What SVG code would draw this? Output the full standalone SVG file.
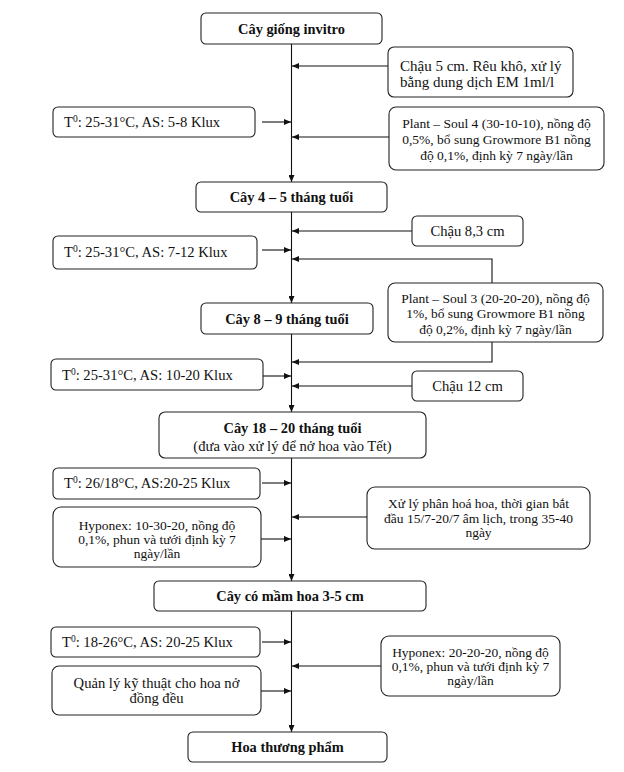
<svg xmlns="http://www.w3.org/2000/svg" width="624" height="772" viewBox="0 0 624 772">
<style>
.b{fill:#fff;stroke:#222;stroke-width:1.1}
.t{font-family:"Liberation Serif","Times New Roman",serif;font-size:14.6px;fill:#111}
.s{font-size:13.5px}
.h{font-weight:bold;font-size:14.4px}
.m{text-anchor:middle}
.c{fill:none;stroke:#111;stroke-width:1.1}
.sup{font-size:9.5px}
</style>
<defs>
<marker id="a" viewBox="0 0 7 6" refX="7" refY="3" markerWidth="7" markerHeight="6" markerUnits="userSpaceOnUse" orient="auto">
<path d="M0,0 L7,3 L0,6 z" fill="#111"/>
</marker>
</defs>
<rect width="624" height="772" fill="#fff"/>
<g id="connectors">
<line class="c" x1="291.5" y1="44" x2="291.5" y2="182" marker-end="url(#a)"/>
<line class="c" x1="291.5" y1="212" x2="291.5" y2="303" marker-end="url(#a)"/>
<line class="c" x1="291.5" y1="334" x2="291.5" y2="412" marker-end="url(#a)"/>
<line class="c" x1="291.5" y1="458" x2="291.5" y2="581" marker-end="url(#a)"/>
<line class="c" x1="291.5" y1="611" x2="291.5" y2="732" marker-end="url(#a)"/>
<line class="c" x1="388" y1="66" x2="292" y2="66" marker-end="url(#a)"/>
<line class="c" x1="262" y1="122" x2="291" y2="122" marker-end="url(#a)"/>
<line class="c" x1="389" y1="137" x2="292" y2="137" marker-end="url(#a)"/>
<line class="c" x1="412" y1="231" x2="292" y2="231" marker-end="url(#a)"/>
<line class="c" x1="262" y1="250" x2="291" y2="250" marker-end="url(#a)"/>
<polyline class="c" points="492,283 492,259 292,259" marker-end="url(#a)"/>
<polyline class="c" points="492,342 492,362 292,362" marker-end="url(#a)"/>
<line class="c" x1="263" y1="376" x2="291" y2="376" marker-end="url(#a)"/>
<line class="c" x1="412" y1="386" x2="292" y2="386" marker-end="url(#a)"/>
<line class="c" x1="262" y1="483" x2="291" y2="483" marker-end="url(#a)"/>
<line class="c" x1="367" y1="517" x2="292" y2="517" marker-end="url(#a)"/>
<line class="c" x1="261" y1="539" x2="291" y2="539" marker-end="url(#a)"/>
<line class="c" x1="262" y1="642" x2="291" y2="642" marker-end="url(#a)"/>
<line class="c" x1="381" y1="666" x2="292" y2="666" marker-end="url(#a)"/>
<line class="c" x1="261" y1="691" x2="291" y2="691" marker-end="url(#a)"/>
</g>
<g id="n1"><rect class="b" x="201" y="13" width="181" height="31" rx="5"/><text class="t h m" x="291.5" y="33.5">Cây giống invitro</text></g>
<g id="n2"><rect class="b" x="388" y="47" width="185" height="50" rx="6"/><text class="t" x="400" y="71" style="font-size:15px">Chậu 5 cm. Rêu khô, xử lý</text><text class="t" x="400" y="87" style="font-size:15px">bằng dung dịch EM 1ml/l</text></g>
<g id="n3"><rect class="b" x="53" y="107" width="202" height="30" rx="5"/><text class="t" x="64" y="127">T<tspan class="sup" dy="-5">0</tspan><tspan dy="5">: 25-31°C, AS: 5-8 Klux</tspan></text></g>
<g id="n4"><rect class="b" x="389" y="107" width="215" height="63" rx="7"/><text class="t s m" x="496.5" y="127.5">Plant – Soul 4 (30-10-10), nồng độ</text><text class="t s m" x="496.5" y="143.5">0,5%, bổ sung Growmore B1 nồng</text><text class="t s m" x="496.5" y="159.5">độ 0,1%, định kỳ 7 ngày/lần</text></g>
<g id="n5"><rect class="b" x="196" y="182" width="191" height="30" rx="5"/><text class="t h m" x="291.5" y="202">Cây 4 – 5 tháng tuổi</text></g>
<g id="n6"><rect class="b" x="412" y="216" width="111" height="30" rx="5"/><text class="t m" x="467.5" y="236">Chậu 8,3 cm</text></g>
<g id="n7"><rect class="b" x="53" y="236" width="204" height="33" rx="5"/><text class="t" x="64" y="257">T<tspan class="sup" dy="-5">0</tspan><tspan dy="5">: 25-31°C, AS: 7-12 Klux</tspan></text></g>
<g id="n8"><rect class="b" x="388" y="283" width="215" height="59" rx="7"/><text class="t s m" x="495.5" y="302.5">Plant – Soul 3 (20-20-20), nồng độ</text><text class="t s m" x="495.5" y="318">1%, bổ sung Growmore B1 nồng</text><text class="t s m" x="495.5" y="333.5">độ 0,2%, định kỳ 7 ngày/lần</text></g>
<g id="n9"><rect class="b" x="201" y="303" width="172" height="31" rx="5"/><text class="t h m" x="287" y="323.5">Cây 8 – 9 tháng tuổi</text></g>
<g id="n10"><rect class="b" x="51" y="359" width="212" height="31" rx="5"/><text class="t" x="62" y="380">T<tspan class="sup" dy="-5">0</tspan><tspan dy="5">: 25-31°C, AS: 10-20 Klux</tspan></text></g>
<g id="n11"><rect class="b" x="412" y="371" width="111" height="30" rx="5"/><text class="t m" x="467.5" y="391">Chậu 12 cm</text></g>
<g id="n12"><rect class="b" x="159" y="412" width="267" height="46" rx="6"/><text class="t h m" x="292.5" y="433">Cây 18 – 20 tháng tuổi</text><text class="t m" x="292.5" y="451">(đưa vào xử lý để nở hoa vào Tết)</text></g>
<g id="n13"><rect class="b" x="53" y="468" width="207" height="31" rx="5"/><text class="t" x="64" y="488">T<tspan class="sup" dy="-5">0</tspan><tspan dy="5">: 26/18°C, AS:20-25 Klux</tspan></text></g>
<g id="n14"><rect class="b" x="367" y="487" width="223" height="62" rx="8"/><text class="t s m" x="478.5" y="508">Xử lý phân hoá hoa, thời gian bắt</text><text class="t s m" x="478.5" y="522.5">đầu 15/7-20/7 âm lịch, trong 35-40</text><text class="t s m" x="478.5" y="537">ngày</text></g>
<g id="n15"><rect class="b" x="53" y="507" width="208" height="60" rx="8"/><text class="t s m" x="157" y="530">Hyponex: 10-30-20, nồng độ</text><text class="t s m" x="157" y="544">0,1%, phun và tưới định kỳ 7</text><text class="t s m" x="157" y="558">ngày/lần</text></g>
<g id="n16"><rect class="b" x="154" y="581" width="272" height="30" rx="5"/><text class="t h m" x="290" y="601">Cây có mầm hoa 3-5 cm</text></g>
<g id="n17"><rect class="b" x="51" y="627" width="209" height="30" rx="5"/><text class="t" x="62" y="647">T<tspan class="sup" dy="-5">0</tspan><tspan dy="5">: 18-26°C, AS: 20-25 Klux</tspan></text></g>
<g id="n18"><rect class="b" x="381" y="636" width="179" height="60" rx="8"/><text class="t s m" x="470.5" y="656.5">Hyponex: 20-20-20, nồng độ</text><text class="t s m" x="470.5" y="670.5">0,1%, phun và tưới định kỳ 7</text><text class="t s m" x="470.5" y="685">ngày/lần</text></g>
<g id="n19"><rect class="b" x="52" y="666" width="209" height="49" rx="7"/><text class="t m" x="156.5" y="688">Quản lý kỹ thuật cho hoa nở</text><text class="t m" x="156.5" y="703">đồng đều</text></g>
<g id="n20"><rect class="b" x="188" y="732" width="199" height="30" rx="5"/><text class="t h m" x="287.5" y="752">Hoa thương phẩm</text></g>
</svg>
